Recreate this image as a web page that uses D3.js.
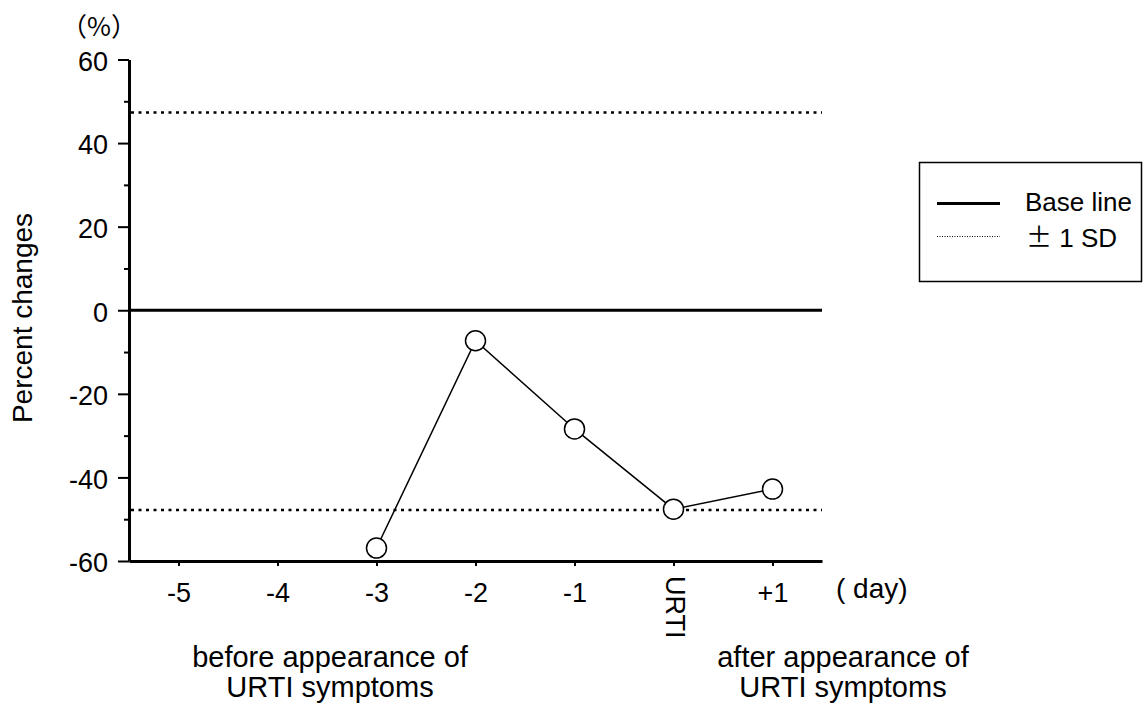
<!DOCTYPE html>
<html>
<head>
<meta charset="utf-8">
<script src="https://cdn.jsdelivr.net/npm/d3@7"></script>
<style>
  html, body { margin: 0; padding: 0; background: #fff; }
  svg text { font-family: Arial, "Liberation Sans", "Noto Sans CJK JP", sans-serif; fill: #000; }
  .cjk { font-family: "Noto Sans CJK JP", sans-serif; }
</style>
</head>
<body>
<svg id="chart" width="1144" height="710"></svg>
<script>
// Days relative to the appearance of URTI symptoms
const categories = ["-5", "-4", "-3", "-2", "-1", "URTI", "+1"];
// Percent change from baseline (null = no measurement)
const percentChange = [null, null, -56.9, -7.3, -28.4, -47.6, -42.8];
// ±1 SD band around the baseline
const sdUpper = 47.3;
const sdLower = -47.8;
const baseline = 0;
const yMajorTicks = [-60, -40, -20, 0, 20, 40, 60];
const yMinorTicks = [-50, -30, -10, 10, 30, 50];
const legendItems = ["Base line", "1 SD"];

const svg = d3.select("#chart");
const plotLeft = 129, plotRight = 822, plotTop = 59.5, plotBottom = 561;
const tickFont = 27;

const x = d3.scalePoint().domain(categories).range([plotLeft, plotRight]).padding(0.5);
const y = d3.scaleLinear().domain([-60, 60]).range([plotBottom, plotTop]);

// Reference lines: baseline and ±1 SD
svg.append("line")
  .attr("x1", plotLeft).attr("x2", plotRight)
  .attr("y1", y(baseline)).attr("y2", y(baseline))
  .attr("stroke", "#000").attr("stroke-width", 3);
[sdUpper, sdLower].forEach(v => {
  svg.append("line")
    .attr("x1", plotLeft + 2).attr("x2", plotRight)
    .attr("y1", y(v)).attr("y2", y(v))
    .attr("stroke", "#000").attr("stroke-width", 2.5)
    .attr("stroke-dasharray", "3,4.5");
});

// Y axis with major and minor ticks (plain hyphen for negatives)
const yAxis = svg.append("g").attr("transform", `translate(${plotLeft},0)`)
  .call(d3.axisLeft(y).tickValues(yMajorTicks).tickFormat(d => String(d))
    .tickSize(11).tickPadding(10).tickSizeOuter(0));
yAxis.select(".domain").attr("stroke-width", 3);
yAxis.selectAll(".tick line").attr("stroke-width", 2);
yAxis.selectAll(".tick text").attr("font-size", tickFont).attr("dy", "0.4em");
const yMinor = svg.append("g").attr("transform", `translate(${plotLeft},0)`)
  .call(d3.axisLeft(y).tickValues(yMinorTicks).tickSize(5).tickFormat("").tickSizeOuter(0));
yMinor.select(".domain").remove();
yMinor.selectAll(".tick line").attr("stroke-width", 2);

// X axis
const xAxis = svg.append("g").attr("transform", `translate(0,${plotBottom})`)
  .call(d3.axisBottom(x).tickSize(5).tickSizeOuter(0));
xAxis.select(".domain").attr("stroke-width", 3);
xAxis.selectAll(".tick line").attr("stroke-width", 2);
xAxis.selectAll(".tick text").attr("font-size", tickFont).attr("y", 41).attr("dy", 0);
// The URTI day label runs vertically, reading top to bottom
xAxis.selectAll(".tick text").filter(d => d === "URTI")
  .attr("text-anchor", "start").attr("dy", "0.28em")
  .attr("transform", "rotate(90)")
  .attr("y", 0).attr("x", 15);

// Data line and markers
const pts = categories.map((c, i) => ({ c, v: percentChange[i] })).filter(d => d.v !== null);
svg.append("path")
  .datum(pts)
  .attr("fill", "none").attr("stroke", "#000").attr("stroke-width", 1.5)
  .attr("d", d3.line().x(d => x(d.c)).y(d => y(d.v)));
svg.selectAll("circle.pt").data(pts).join("circle")
  .attr("class", "pt")
  .attr("cx", d => x(d.c)).attr("cy", d => y(d.v)).attr("r", 10)
  .attr("fill", "#fff").attr("stroke", "#000").attr("stroke-width", 1.5);

// Axis titles and annotations
svg.append("text").attr("class", "cjk").attr("x", 99).attr("y", 36).attr("text-anchor", "middle")
  .attr("font-size", 26).text("\uFF08%\uFF09");
svg.append("text").attr("transform", "translate(32,318) rotate(-90)")
  .attr("text-anchor", "middle").attr("font-size", 28).text("Percent changes");
svg.append("text").attr("x", 836).attr("y", 598).attr("font-size", 28).text("( day)");

const noteBefore = ["before appearance of", "URTI symptoms"];
const noteAfter = ["after appearance of", "URTI symptoms"];
[[noteBefore, 330], [noteAfter, 843]].forEach(([lines, cx]) => {
  lines.forEach((t, i) => {
    svg.append("text").attr("x", cx).attr("y", 667 + i * 30)
      .attr("text-anchor", "middle").attr("font-size", 29).text(t);
  });
});

// Legend
const lg = svg.append("g");
lg.append("rect").attr("x", 919.5).attr("y", 162.5).attr("width", 222).attr("height", 119)
  .attr("fill", "#fff").attr("stroke", "#000").attr("stroke-width", 1.5);
lg.append("line").attr("x1", 937).attr("x2", 1000).attr("y1", 203.5).attr("y2", 203.5)
  .attr("stroke", "#000").attr("stroke-width", 3);
lg.append("line").attr("x1", 937).attr("x2", 1000).attr("y1", 236.5).attr("y2", 236.5)
  .attr("stroke", "#000").attr("stroke-width", 1).attr("stroke-dasharray", "1,1.5");
lg.append("text").attr("x", 1025).attr("y", 210.5).attr("font-size", 26).text(legendItems[0]);
const sdText = lg.append("text").attr("x", 1026).attr("y", 247).attr("font-size", 26);
sdText.append("tspan").attr("class", "cjk").text("\u00B1");
sdText.append("tspan").text(" " + legendItems[1]);
</script>
</body>
</html>
